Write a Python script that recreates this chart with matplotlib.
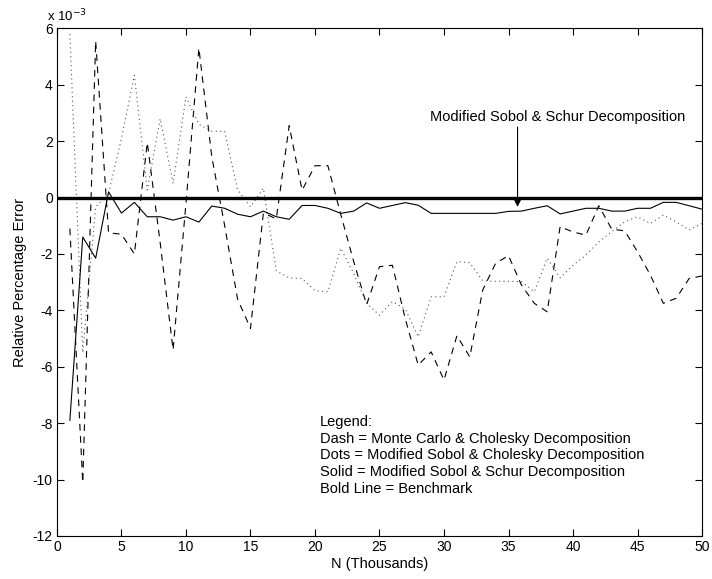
import matplotlib
matplotlib.use("Agg")
import matplotlib.pyplot as plt
import numpy as np

plt.rcParams['font.family'] = ['Liberation Sans', 'DejaVu Sans']

N = list(range(1, 51))

# values in units of 1e-3
dash_mc_chol = [-1.1, -10.1, 5.55, -1.25, -1.3, -2.0, 1.95, -1.6, -5.4, -0.2,
                5.3, 1.45, -1.0, -3.6, -4.64, -0.55, -0.75, 2.55, 0.26, 1.13,
                1.13, -0.6, -2.27, -3.8, -2.45, -2.4, -4.3, -5.94, -5.47, -6.47,
                -4.9, -5.65, -3.28, -2.33, -2.06, -3.1, -3.75, -4.05, -1.03, -1.22,
                -1.33, -0.29, -1.12, -1.18, -1.92, -2.75, -3.75, -3.57, -2.87, -2.78]

dots_sobol_chol = [5.8, -5.5, -0.33, 0.15, 2.1, 4.34, 0.27, 2.8, 0.5, 3.57,
                   2.6, 2.35, 2.35, 0.27, -0.33, 0.33, -2.6, -2.85, -2.87, -3.3,
                   -3.34, -1.8, -2.69, -3.75, -4.17, -3.69, -3.95, -4.94, -3.52, -3.52,
                   -2.27, -2.31, -2.95, -2.97, -2.97, -2.98, -3.34, -2.15, -2.85, -2.4,
                   -2.04, -1.57, -1.21, -0.86, -0.68, -0.92, -0.62, -0.86, -1.15, -0.92]

solid_sobol_schur = [-7.9, -1.4, -2.15, 0.2, -0.55, -0.17, -0.68, -0.68, -0.8, -0.68,
                     -0.87, -0.3, -0.38, -0.59, -0.68, -0.48, -0.68, -0.77, -0.28, -0.28,
                     -0.38, -0.56, -0.48, -0.19, -0.38, -0.28, -0.18, -0.27, -0.56, -0.56,
                     -0.56, -0.56, -0.56, -0.56, -0.49, -0.48, -0.38, -0.29, -0.58, -0.48,
                     -0.38, -0.38, -0.48, -0.48, -0.38, -0.38, -0.17, -0.17, -0.29, -0.41]

benchmark = [0.0] * 50

legend_lines = ["Legend:",
                "Dash = Monte Carlo & Cholesky Decomposition",
                "Dots = Modified Sobol & Cholesky Decomposition",
                "Solid = Modified Sobol & Schur Decomposition",
                "Bold Line = Benchmark"]

scale = 1e-3

fig = plt.figure(figsize=(7.12, 5.79), dpi=100)
ax = fig.add_axes([0.080, 0.0743, 0.906, 0.8767])

x = np.array(N)
ax.plot(x, np.array(dash_mc_chol) * scale, color='black', lw=0.8,
        linestyle=(0, (6, 5)))
ax.plot(x, np.array(dots_sobol_chol) * scale, color='#555555', lw=0.8,
        linestyle=(0, (1, 3)))
ax.plot(x, np.array(solid_sobol_schur) * scale, color='black', lw=0.8)
ax.plot([0, 50], [benchmark[0] * scale, benchmark[-1] * scale], color='black', lw=2.4)

ax.set_xlim(0, 50)
ax.set_ylim(-12e-3, 6e-3)
ax.set_xticks(np.arange(0, 51, 5))
ax.set_yticks(np.arange(-12, 7, 2) * scale)
ax.set_yticklabels([str(v) for v in range(-12, 7, 2)])
ax.tick_params(direction='in', length=4.8, width=0.8, top=True, right=True,
               labelsize=10, pad=3)
for s in ax.spines.values():
    s.set_linewidth(0.8)

ax.set_xlabel("N (Thousands)", fontsize=10.5, labelpad=2)
ax.set_ylabel("Relative Percentage Error", fontsize=10.5, labelpad=4)

fig.text(47 / 712, 1 - 21 / 579, r"x 10$^{-3}$", fontsize=9.5, ha='left',
         va='baseline')

ax.annotate("", xy=(35.7, -0.33e-3), xytext=(35.7, 2.5e-3),
            arrowprops=dict(arrowstyle='-|>', color='black', lw=0.8,
                            mutation_scale=10, shrinkA=0, shrinkB=0))
ax.text(38.8, 2.85e-3, "Modified Sobol & Schur Decomposition", fontsize=10.5,
        ha='center', va='center')

for i, t in enumerate(legend_lines):
    ax.text(20.4, (-7.96 - 0.59 * i) * scale, t, fontsize=10.5, ha='left', va='center')

fig.savefig("out.png", dpi=100)
